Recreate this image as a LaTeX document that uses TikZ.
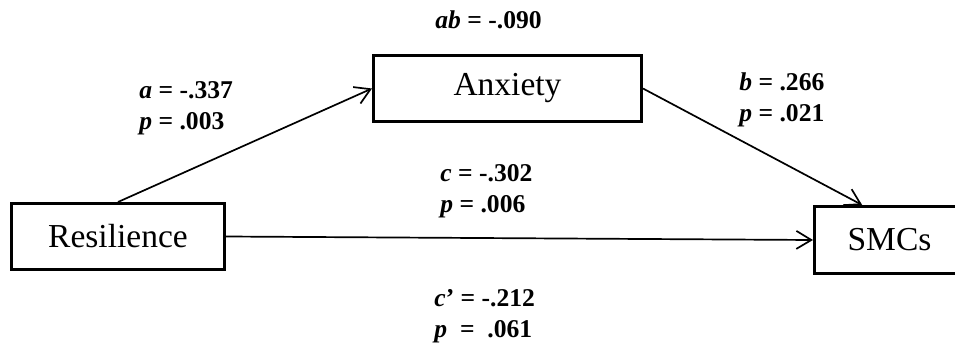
\documentclass[tikz,border=0pt]{standalone}
\usepackage{fontspec}
\setmainfont{Liberation Serif}
\usetikzlibrary{arrows.meta}
\tikzset{
  med box/.style={draw=black, line width=1.5pt, fill=white, inner sep=0pt, font=\fontsize{16.75}{20}\selectfont},
  med path/.style={draw=black, line width=0.85pt, -{Straight Barb[length=7.5pt, width=9pt]}},
  med label/.style={font=\fontsize{12.8}{15.5}\selectfont\bfseries, align=left, anchor=base west, inner sep=0pt},
}

\begin{document}
\begin{tikzpicture}[x=0.5pt, y=-0.5pt]
  \useasboundingbox (0,0) rectangle (955,343);

  % Variables (SMCs runs past the right edge)
  \node[med box, minimum width=106.5pt, minimum height=33pt] (res) at (118,236.5) {Resilience};
  \node[med box, minimum width=134pt, minimum height=33pt] (anx) at (507.5,88.5) {Anxiety};
  \node[med box, minimum width=75pt, minimum height=33.5pt] (smc) at (889.5,240) {SMCs};

  % Paths
  \draw[med path] (res.north) -- (anx.west);
  \draw[med path] (anx.east) -- (smc.128);
  \draw[med path] (res.east) -- (smc.west);

  % Coefficients (base = last line)
  \node[med label] (lab ab) at (435,28) {\textit{ab} = -.090};
  \node[med label] (lab a) at (139,129) {\textit{a} = -.337\\\textit{p} = .003};
  \node[med label] (lab b) at (739,121) {\textit{b} = .266\\\textit{p} = .021};
  \node[med label] (lab c) at (440,212) {\textit{c} = -.302\\\textit{p} = .006};
  \node[med label] (lab cp) at (434,337) {\textit{c}' = -.212\\\textit{p}\ \ =\ \ .061};
\end{tikzpicture}
\end{document}
